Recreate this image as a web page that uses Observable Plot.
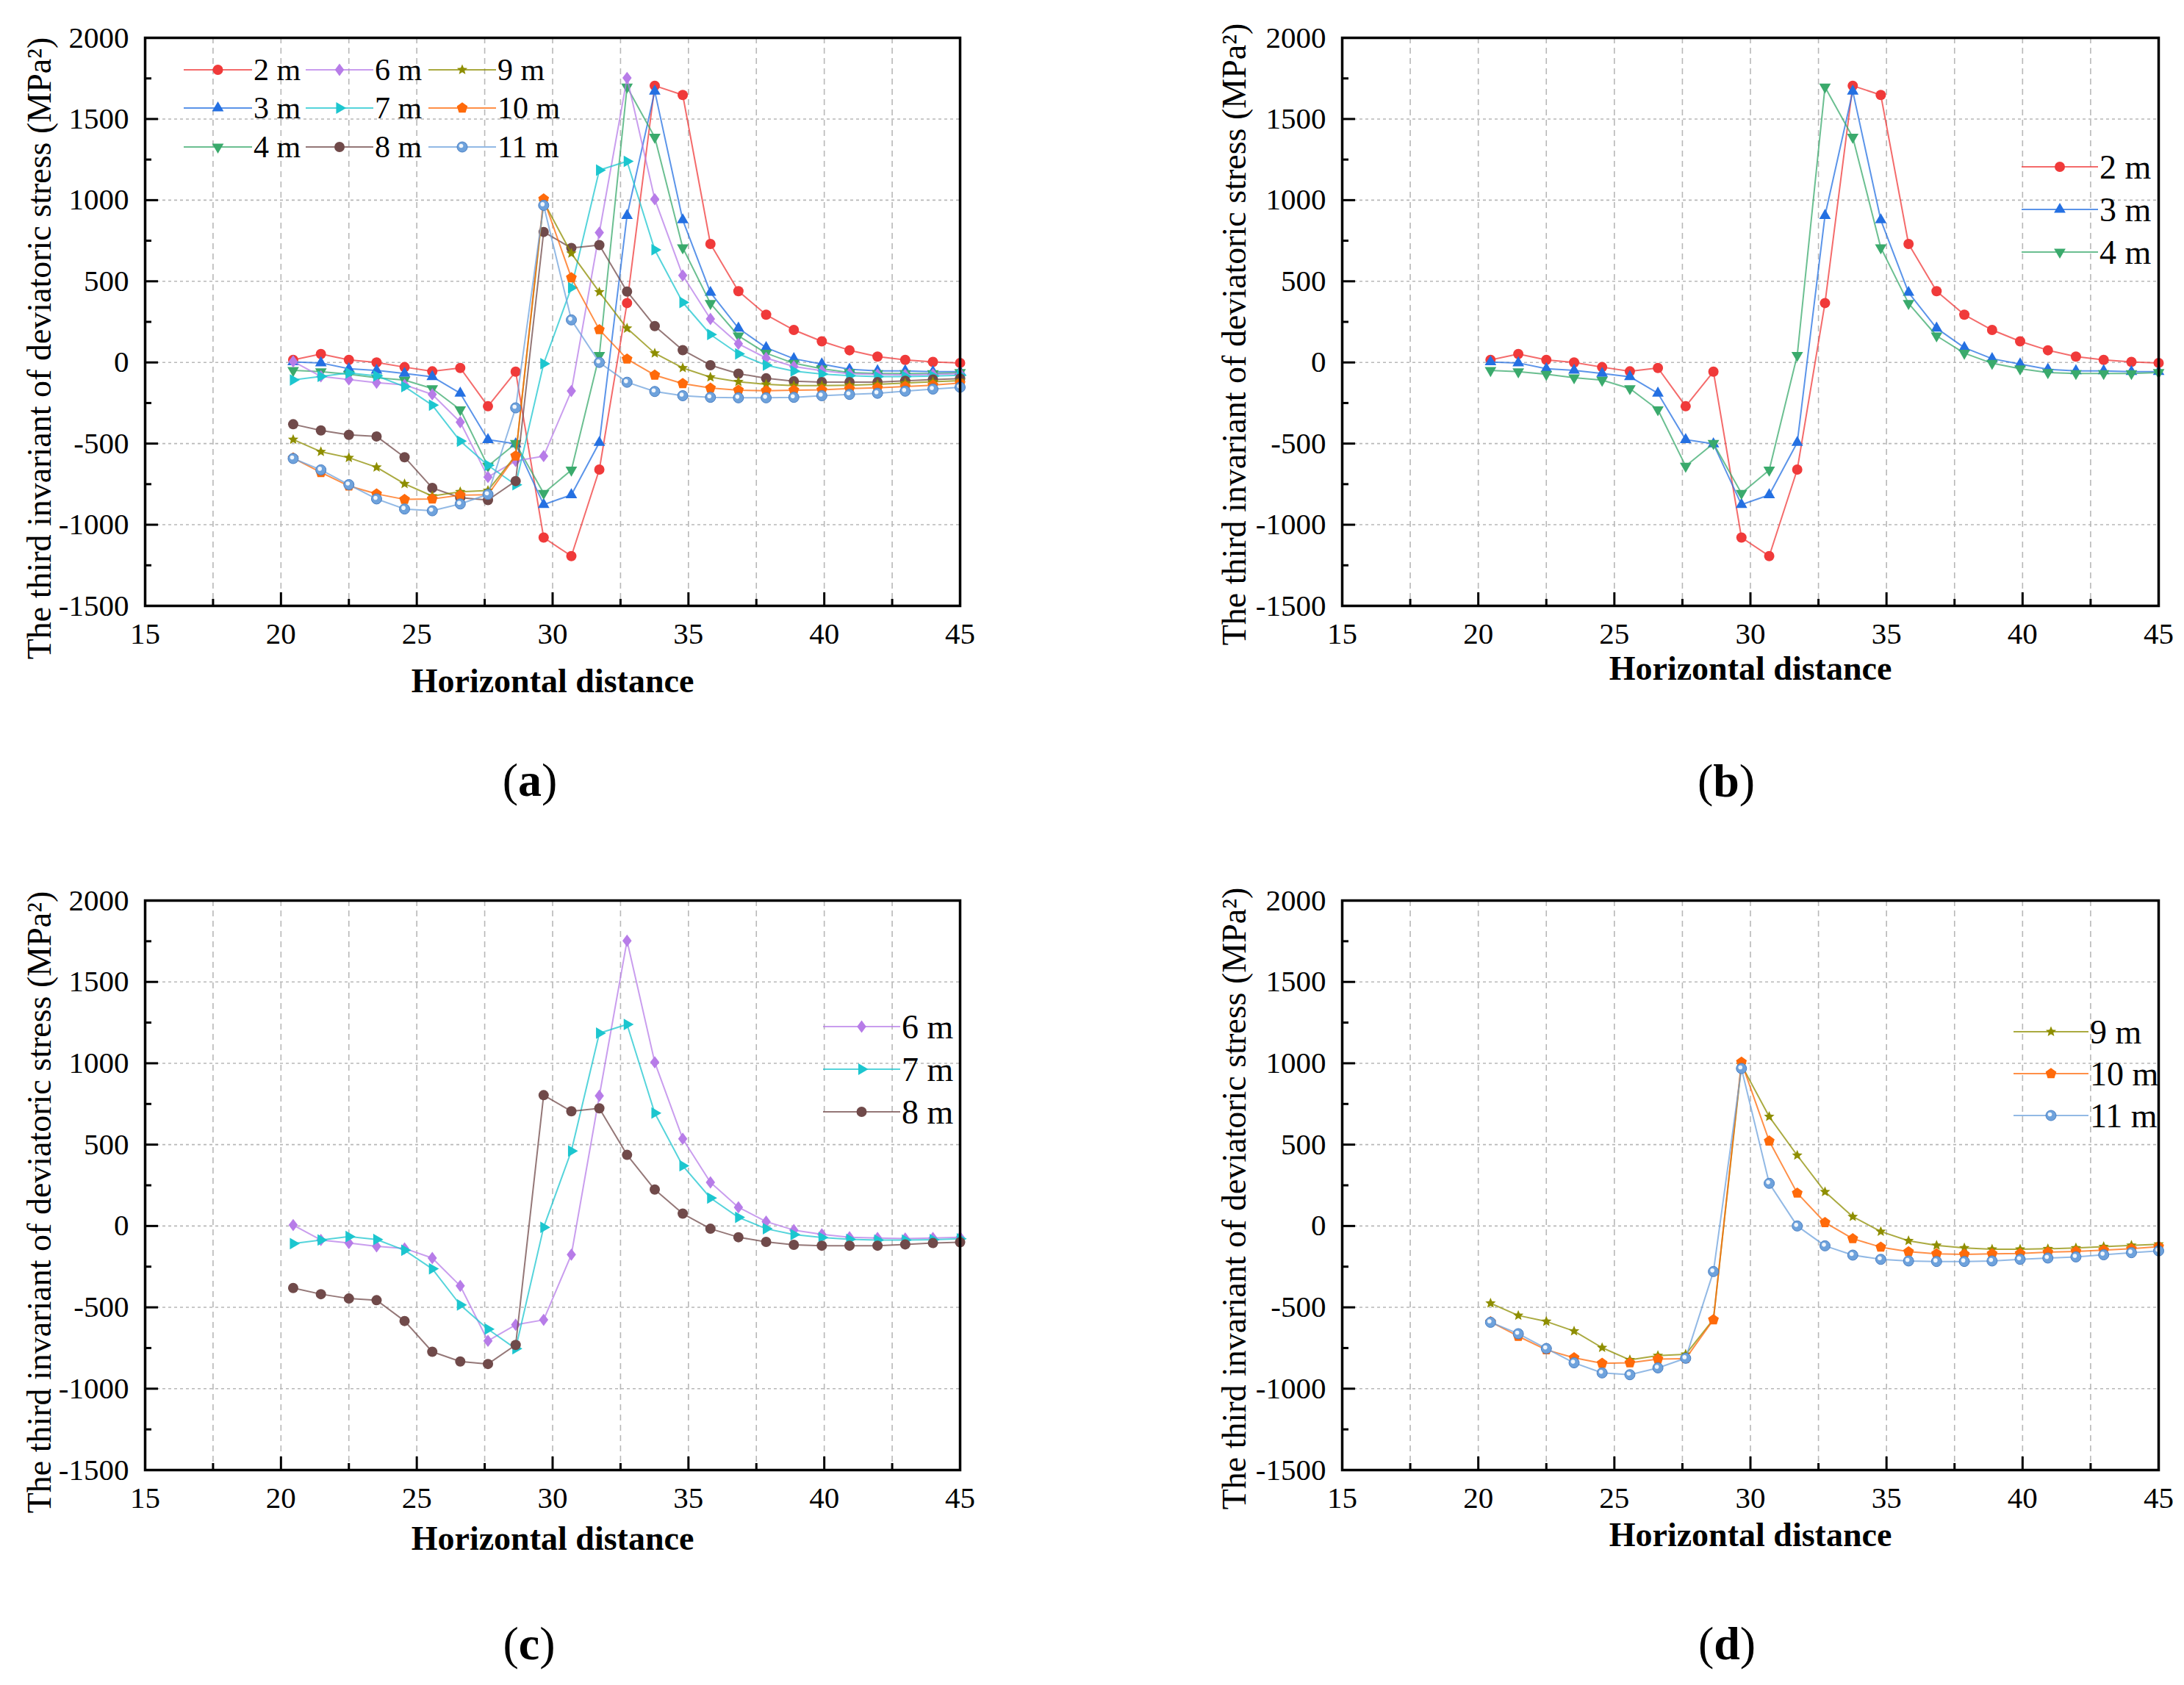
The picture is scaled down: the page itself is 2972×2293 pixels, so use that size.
<!DOCTYPE html>
<html><head><meta charset="utf-8">
<script src="https://cdn.jsdelivr.net/npm/d3@7"></script>
<script src="https://cdn.jsdelivr.net/npm/@observablehq/plot@0.6"></script>
<style>
html,body{margin:0;padding:0;background:#fff;}
#page{position:relative;width:2972px;height:2293px;overflow:hidden;background:#fff;font-family:"Liberation Serif","Times New Roman",serif;}
.panel{position:absolute;}
.plabel{position:absolute;transform:translate(-50%,-50%);font-size:64px;line-height:1;white-space:nowrap;color:#000;}
</style></head><body><div id="page"></div>
<script>
// ---------- data ----------
const xPos = [20.45, 21.47, 22.5, 23.52, 24.55, 25.57, 26.6, 27.62, 28.64, 29.67, 30.69, 31.72, 32.74, 33.76, 34.79, 35.81, 36.84, 37.86, 38.88, 39.91, 40.93, 41.96, 42.98, 44.0, 45.0];
const v2m  = [16, 52, 16, 0, -29, -55, -34, -270, -57, -1079, -1193, -660, 366, 1705, 1648, 730, 439, 294, 200, 130, 75, 36, 16, 3, -3];
const v3m  = [3, -3, -39, -49, -68, -88, -190, -476, -502, -876, -816, -494, 905, 1671, 878, 431, 211, 91, 23, -10, -42, -52, -52, -57, -57];
const v4m  = [-49, -57, -73, -94, -109, -161, -291, -639, -499, -806, -663, 44, 1697, 1388, 707, 364, 164, 57, -5, -39, -62, -68, -68, -68, -62];
const v6m  = [6, -86, -105, -125, -138, -197, -368, -706, -607, -577, -176, 800, 1753, 1006, 536, 268, 115, 27, -25, -51, -69, -74, -77, -74, -69];
const v7m  = [-108, -86, -65, -83, -149, -263, -485, -634, -754, -8, 461, 1185, 1239, 694, 370, 172, 53, -17, -53, -71, -82, -87, -87, -84, -79];
const v8m  = [-381, -419, -446, -456, -584, -773, -833, -848, -731, 804, 705, 723, 437, 224, 76, -17, -69, -98, -116, -121, -121, -121, -113, -105, -100];
const v9m  = [-475, -550, -587, -646, -748, -823, -797, -789, -574, 990, 672, 434, 210, 57, -34, -91, -119, -135, -143, -143, -140, -135, -127, -119, -112];
const v10m = [-589, -678, -761, -810, -844, -841, -818, -815, -576, 1007, 522, 202, 21, -78, -130, -158, -171, -174, -171, -169, -161, -156, -148, -140, -127];
const v11m = [-592, -662, -753, -841, -903, -914, -872, -813, -280, 968, 262, 0, -122, -179, -205, -215, -218, -218, -215, -205, -197, -190, -177, -164, -153];

const seriesNames   = ["2 m", "3 m", "4 m", "6 m", "7 m", "8 m", "9 m", "10 m", "11 m"];
const seriesValues  = [v2m, v3m, v4m, v6m, v7m, v8m, v9m, v10m, v11m];
const seriesColors  = ["#f03a3a", "#2470e2", "#3aaa6c", "#b77ce8", "#1cc6cf", "#704a4a", "#8e8e00", "#ff6a0a", "#6ea2dc"];
const seriesSymbols = ["circle", "triUp", "triDown", "diamond", "triRight", "circle", "star", "pentagon", "sphere"];

const xMajor = [15, 20, 25, 30, 35, 40, 45];
const xMinor = [17.5, 22.5, 27.5, 32.5, 37.5, 42.5];
const xGrid  = [17.5, 20, 22.5, 25, 27.5, 30, 32.5, 35, 37.5, 40, 42.5];
const yMajor = [-1500, -1000, -500, 0, 500, 1000, 1500, 2000];
const yMinor = [-1250, -750, -250, 250, 750, 1250, 1750];
const yGrid  = [-1000, -500, 0, 500, 1000, 1500];

const xTitle = "Horizontal distance";
const yTitle = "The third invariant of deviatoric stress (MPa\u00B2)";
const panelLetters = ["a", "b", "c", "d"];

// ---------- symbols ----------
const SYM = {
  circle: d3.symbolCircle,
  sphere: d3.symbolCircle,
  triUp: {draw(c, s) { const R = Math.sqrt(s / Math.PI) * 1.3; c.moveTo(0, -R); c.lineTo(R * 0.866, R * 0.5); c.lineTo(-R * 0.866, R * 0.5); c.closePath(); }},
  triDown: {draw(c, s) { const R = Math.sqrt(s / Math.PI) * 1.3; c.moveTo(0, R); c.lineTo(R * 0.866, -R * 0.5); c.lineTo(-R * 0.866, -R * 0.5); c.closePath(); }},
  triRight: {draw(c, s) { const R = Math.sqrt(s / Math.PI) * 1.3; c.moveTo(R, 0); c.lineTo(-R * 0.5, R * 0.866); c.lineTo(-R * 0.5, -R * 0.866); c.closePath(); }},
  diamond: {draw(c, s) { const R = Math.sqrt(s / Math.PI); c.moveTo(0, -R * 1.2); c.lineTo(R * 0.9, 0); c.lineTo(0, R * 1.2); c.lineTo(-R * 0.9, 0); c.closePath(); }},
  pentagon: {draw(c, s) { const R = Math.sqrt(s / Math.PI) * 1.1; for (let k = 0; k < 5; k++) { const a = -Math.PI / 2 + k * 2 * Math.PI / 5; const px = R * Math.cos(a), py = R * Math.sin(a); if (k === 0) c.moveTo(px, py); else c.lineTo(px, py); } c.closePath(); }},
  star: {draw(c, s) { const R = Math.sqrt(s / Math.PI) * 1.15, r = R * 0.45; for (let k = 0; k < 10; k++) { const a = -Math.PI / 2 + k * Math.PI / 5; const rr = k % 2 ? r : R; const px = rr * Math.cos(a), py = rr * Math.sin(a); if (k === 0) c.moveTo(px, py); else c.lineTo(px, py); } c.closePath(); }}
};
const symR = {circle: 7, sphere: 7, triUp: 7, triDown: 7, triRight: 7, diamond: 7, pentagon: 7, star: 6.5};

// ---------- layout ----------
const panels = [
  {left: 197,  top: 51,   w: 1109, h: 773, series: [0,1,2,3,4,5,6,7,8], xDy: 103, yDx: -143, yDy: 36, lx: 721,  ly: 1062,
   legend: {font: 42, rows: [95, 147, 200], cols: [{x1: 250, x2: 343}, {x1: 416, x2: 508}, {x1: 583, x2: 675}], grid: [[0,1,2],[3,4,5],[6,7,8]]}},
  {left: 1826, top: 51,   w: 1111, h: 773, series: [0,1,2], xDy: 86, yDx: -146, yDy: 17, lx: 2349, ly: 1063,
   legend: {font: 46, rows: [227, 285, 343], cols: [{x1: 2751, x2: 2855}], grid: [[0,1,2]]}},
  {left: 197,  top: 1225, w: 1109, h: 775, series: [3,4,5], xDy: 94, yDx: -143, yDy: 23, lx: 720,  ly: 2237,
   legend: {font: 46, rows: [1397, 1455, 1513], cols: [{x1: 1120, x2: 1225}], grid: [[3,4,5]]}},
  {left: 1826, top: 1225, w: 1111, h: 775, series: [6,7,8], xDy: 89, yDx: -146, yDy: 18, lx: 2350, ly: 2237,
   legend: {font: 46, rows: [1404, 1461, 1518], cols: [{x1: 2740, x2: 2842}], grid: [[6,7,8]]}}
];

const page = document.getElementById("page");
const ML = 200, MT = 40, MR = 34, MB = 160;

panels.forEach((p, pi) => {
  const marks = [
    Plot.ruleX(xGrid, {stroke: "#b8b8b8", strokeWidth: 1.6, strokeDasharray: "8,6"}),
    Plot.ruleY(yGrid, {stroke: "#b8b8b8", strokeWidth: 1.6, strokeDasharray: "4,4"})
  ];
  for (const idx of p.series) {
    const data = xPos.map((x, i) => ({x, y: seriesValues[idx][i]}));
    const col = seriesColors[idx], sym = seriesSymbols[idx];
    marks.push(Plot.line(data, {x: "x", y: "y", stroke: col, strokeWidth: 2, strokeOpacity: 0.75}));
    if (sym === "sphere") {
      marks.push(Plot.dot(data, {x: "x", y: "y", r: symR[sym], fill: col, stroke: "#4a80c4", strokeWidth: 1}));
      marks.push(Plot.dot(data, {x: "x", y: "y", r: 2.8, fill: "#ffffff", fillOpacity: 0.9, dx: -1.5, dy: -1.5}));
    } else {
      marks.push(Plot.dot(data, {x: "x", y: "y", r: symR[sym], symbol: SYM[sym], fill: col}));
    }
  }
  marks.push(
    Plot.frame({stroke: "#000", strokeWidth: 3.5}),
    Plot.axisX(xMajor, {anchor: "bottom", tickSize: 18, dy: -18, fill: "none", strokeWidth: 3, label: null}),
    Plot.axisX(xMinor, {anchor: "bottom", tickSize: 9, dy: -9, fill: "none", strokeWidth: 3, label: null}),
    Plot.axisX(xMajor, {anchor: "bottom", tickSize: 0, tickPadding: 22, fontSize: 41, tickFormat: d => String(d), label: null}),
    Plot.axisY(yMajor, {anchor: "left", tickSize: 18, dx: 18, fill: "none", strokeWidth: 3, label: null}),
    Plot.axisY(yMinor, {anchor: "left", tickSize: 9, dx: 9, fill: "none", strokeWidth: 3, label: null}),
    Plot.axisY(yMajor, {anchor: "left", tickSize: 0, tickPadding: 22, fontSize: 41, tickFormat: d => String(d), label: null}),
    Plot.text([xTitle], {text: d => d, frameAnchor: "bottom", dy: p.xDy, fontSize: 46, fontWeight: "bold", lineAnchor: "middle", textAnchor: "middle", fill: "#000"}),
    Plot.text([yTitle], {text: d => d, frameAnchor: "left", dx: p.yDx, dy: p.yDy, rotate: -90, fontSize: 46, lineAnchor: "middle", textAnchor: "middle", fill: "#000"})
  );
  const svg = Plot.plot({
    width: ML + p.w + MR, height: MT + p.h + MB,
    marginLeft: ML, marginRight: MR, marginTop: MT, marginBottom: MB,
    x: {domain: [15, 45]},
    y: {domain: [-1500, 2000]},
    style: {fontFamily: '"Liberation Serif", "Times New Roman", serif', fontSize: "41px", color: "#000", background: "transparent", overflow: "visible"},
    marks
  });
  const wrap = document.createElement("div");
  wrap.className = "panel";
  wrap.style.left = (p.left - ML) + "px";
  wrap.style.top = (p.top - MT) + "px";
  wrap.appendChild(svg);
  page.appendChild(wrap);

  const lab = document.createElement("div");
  lab.className = "plabel";
  lab.style.left = p.lx + "px";
  lab.style.top = p.ly + "px";
  lab.innerHTML = "(<b>" + panelLetters[pi] + "</b>)";
  page.appendChild(lab);
});

// ---------- legends ----------
const lsvg = d3.select(page).append("svg")
  .attr("width", 2972).attr("height", 2293)
  .style("position", "absolute").style("left", 0).style("top", 0).style("pointer-events", "none");

panels.forEach(p => {
  const L = p.legend;
  L.grid.forEach((colSeries, ci) => {
    const c = L.cols[ci];
    colSeries.forEach((idx, ri) => {
      const y = L.rows[ri];
      const col = seriesColors[idx], sym = seriesSymbols[idx];
      const mx = (c.x1 + c.x2) / 2;
      lsvg.append("line").attr("x1", c.x1).attr("x2", c.x2).attr("y1", y).attr("y2", y)
        .attr("stroke", col).attr("stroke-width", 2).attr("stroke-opacity", 0.75);
      const r = symR[sym];
      lsvg.append("path").attr("transform", `translate(${mx},${y})`)
        .attr("d", d3.symbol(SYM[sym], r * r * Math.PI)())
        .attr("fill", col).attr("stroke", sym === "sphere" ? "#4a80c4" : "none").attr("stroke-width", 1);
      if (sym === "sphere") {
        lsvg.append("circle").attr("cx", mx - 1.5).attr("cy", y - 1.5).attr("r", 2.8).attr("fill", "#fff").attr("fill-opacity", 0.9);
      }
      lsvg.append("text").attr("x", c.x2 + 2).attr("y", y).attr("dominant-baseline", "central")
        .attr("font-family", '"Liberation Serif", "Times New Roman", serif').attr("font-size", L.font)
        .attr("fill", "#000").text(seriesNames[idx]);
    });
  });
});
</script>
</body></html>
